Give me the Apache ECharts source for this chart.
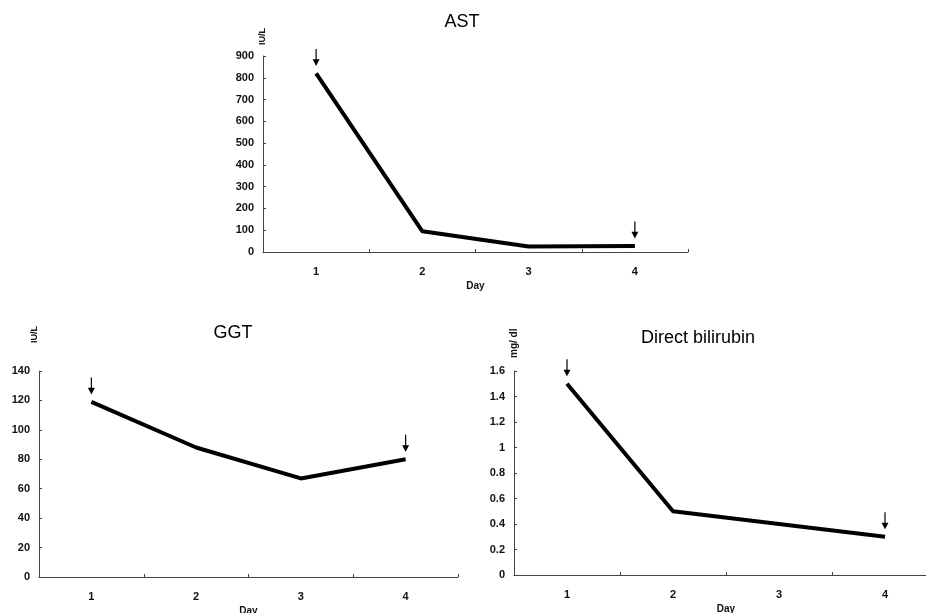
<!DOCTYPE html>
<html>
<head>
<meta charset="utf-8">
<script src="https://cdn.jsdelivr.net/npm/echarts@6/dist/echarts.min.js"></script>
<style>html,body{margin:0;padding:0;background:#fff}#c{width:926px;height:613px}</style>
</head>
<body>
<div id="c"></div>
<script>
const days = ['1', '2', '3', '4'];
const astValues = [820, 95, 25, 28];
const ggtValues = [119, 88, 67, 80];
const biliValues = [1.5, 0.5, 0.4, 0.3];
const arrowDays = ['1', '4'];
const titles = ['AST', 'GGT', 'Direct bilirubin'];
const units = ['IU/L', 'IU/L', 'mg/ dl'];

const FONT = '"Liberation Sans", Arial, sans-serif';
const ARROW = 'path://M3.4,0 L4.6,0 L4.6,11 L7.5,11 L4,18 L0.5,11 L3.4,11 Z';

const grids = [
  {left: 263, top: 56, width: 425, height: 196, outerBoundsMode: 'none'},
  {left: 39, top: 371, width: 419, height: 206, outerBoundsMode: 'none'},
  {left: 514, top: 371, width: 424, height: 204, outerBoundsMode: 'none'}
];
const yCfg = [
  {min: 0, max: 900, interval: 100, fmt: v => String(v)},
  {min: 0, max: 140, interval: 20, fmt: v => String(v)},
  {min: 0, max: 1.6, interval: 0.2, fmt: v => String(Math.round(v * 10) / 10)}
];
const nameCfg = [
  {gap: 11, va: 'middle', size: 9},
  {gap: 28, va: 'bottom', size: 9},
  {gap: 13, va: 'middle', size: 10}
];
const seriesData = [astValues, ggtValues, biliValues];
const titlePos = [{x: 457, y: 8}, {x: 228, y: 319}, {x: 693, y: 324}];

const option = {
  animation: false,
  backgroundColor: '#fff',
  textStyle: {fontFamily: FONT},
  title: titles.map((t, i) => ({
    text: t, left: titlePos[i].x, top: titlePos[i].y, textAlign: 'center',
    textStyle: {fontFamily: FONT, fontSize: 18, fontWeight: 'normal', color: '#000'}
  })),
  grid: grids,
  xAxis: grids.map((g, i) => ({
    type: 'category', gridIndex: i, data: days, boundaryGap: true,
    name: 'Day', nameLocation: 'middle', nameGap: 29,
    nameTextStyle: {fontSize: 10, color: '#111', fontFamily: FONT, fontWeight: 'bold'},
    axisLine: {lineStyle: {color: '#444', width: 1}},
    axisTick: {show: true, inside: true, length: 3, lineStyle: {color: '#444'}},
    axisLabel: {fontSize: 11, color: '#111', margin: 14, fontFamily: FONT, fontWeight: 'bold'},
    splitLine: {show: false}
  })),
  yAxis: grids.map((g, i) => ({
    type: 'value', gridIndex: i, min: yCfg[i].min, max: yCfg[i].max, interval: yCfg[i].interval,
    name: units[i], nameLocation: 'end', nameRotate: 90, nameGap: nameCfg[i].gap,
    nameTextStyle: {fontSize: nameCfg[i].size, color: '#111', fontFamily: FONT, fontWeight: 'bold', align: 'left', verticalAlign: nameCfg[i].va},
    axisLine: {show: true, lineStyle: {color: '#444', width: 1}},
    axisTick: {show: true, inside: true, length: 3, lineStyle: {color: '#444'}},
    axisLabel: {fontSize: 11, color: '#111', margin: 9, fontFamily: FONT, fontWeight: 'bold', formatter: yCfg[i].fmt},
    splitLine: {show: false}
  })),
  series: seriesData.map((d, i) => ({
    type: 'line', xAxisIndex: i, yAxisIndex: i, data: d,
    symbol: 'none', lineStyle: {color: '#000', width: 4}, z: 3,
    markPoint: {
      symbol: ARROW, symbolSize: [7, 17], symbolOffset: [0, -16],
      itemStyle: {color: '#000'}, label: {show: false},
      data: arrowDays.map(day => ({coord: [day, d[days.indexOf(day)]]}))
    }
  }))
};
const chart = echarts.init(document.getElementById('c'), null, {renderer: 'canvas'});
chart.setOption(option);
</script>
</body>
</html>
